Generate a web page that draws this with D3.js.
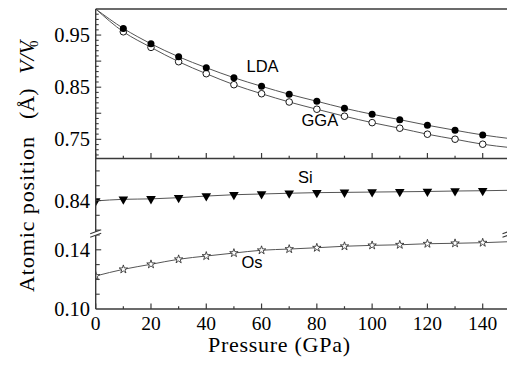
<!DOCTYPE html>
<html><head><meta charset="utf-8">
<script src="https://cdn.jsdelivr.net/npm/d3@7"></script>
<style>body{margin:0;background:#fff}svg{display:block}</style>
</head><body>
<svg id="c" width="507" height="366"></svg>
<script>
// ---- data ----
const pressure = [0,10,20,30,40,50,60,70,80,90,100,110,120,130,140];
const fitPressure = [0,10,20,30,40,50,60,70,80,90,100,110,120,130,140,150];
const ldaFit = [1.0,0.9628,0.9333,0.9084,0.8874,0.8682,0.8517,0.8364,0.8230,0.8096,0.7981,0.7877,0.7770,0.7674,0.7584,0.7513];
const ggaFit = [1.0,0.9563,0.9264,0.8989,0.8759,0.8548,0.8375,0.8216,0.8077,0.7943,0.7820,0.7713,0.7598,0.7502,0.7406,0.7341];
const siFit  = [0.8397,0.8408,0.8411,0.8419,0.8430,0.8439,0.8444,0.8449,0.8453,0.8455,0.8457,0.8459,0.8461,0.8464,0.8466,0.8469];
const osFit  = [0.1223,0.1268,0.1302,0.1336,0.1358,0.1378,0.1397,0.1405,0.1414,0.1424,0.1430,0.1434,0.1441,0.1444,0.1448,0.1455];
const xTicks = ["0","20","40","60","80","100","120","140"];
const xMinor = [10,30,50,70,90,110,130];
const vTickLabels = ["0.95","0.85","0.75"];
const siTickLabels = ["0.84"];
const osTickLabels = ["0.14","0.10"];

// ---- layout ----
const svg = d3.select("#c");
const X0 = 95.7, Ytop = 9, Ymid = 158.5, Ybot = 309, Ybreak = 233.5;
const x = d3.scaleLinear().domain([0,140]).range([X0, 482.7]);
const yV = d3.scaleLinear().domain([0.7132,1.0]).range([Ymid, Ytop]);
const ySi = d3.scaleLinear().domain([0.84,0.86]).range([200.5,170.9]);
const yOs = d3.scaleLinear().domain([0.10,0.14]).range([Ybot,249.8]);
const axisCol = "#3a3a3a", lineCol = "#555";
const serif = "'Liberation Serif', serif";

const defs = svg.append("defs");
defs.append("clipPath").attr("id","cU").append("rect").attr("x",X0).attr("y",Ytop).attr("width",507-X0).attr("height",Ymid-Ytop);
defs.append("clipPath").attr("id","cS").append("rect").attr("x",X0).attr("y",Ymid).attr("width",507-X0).attr("height",Ybreak-Ymid);
defs.append("clipPath").attr("id","cO").append("rect").attr("x",X0).attr("y",Ybreak).attr("width",507-X0).attr("height",Ybot-Ybreak);

// ---- curves ----
function curve(vals, ys, clip){
  const data = fitPressure.map((p,i)=>[p,vals[i]]);
  svg.append("path").attr("clip-path",`url(#${clip})`)
    .attr("d", d3.line().x(d=>x(d[0])).y(d=>ys(d[1])).curve(d3.curveMonotoneX)(data))
    .attr("fill","none").attr("stroke",lineCol).attr("stroke-width",1);
}
curve(ldaFit,yV,"cU"); curve(ggaFit,yV,"cU"); curve(siFit,ySi,"cS"); curve(osFit,yOs,"cO");

// ---- markers ----
const ptsIdx = pressure.map((p,i)=>i);
svg.append("g").selectAll("circle").data(ptsIdx.filter(i=>i>0)).join("circle")
  .attr("cx",i=>x(pressure[i])).attr("cy",i=>yV(ggaFit[i])).attr("r",3.3)
  .attr("fill","#fff").attr("stroke","#000").attr("stroke-width",0.9);
svg.append("g").selectAll("circle").data(ptsIdx.filter(i=>i>0)).join("circle")
  .attr("cx",i=>x(pressure[i])).attr("cy",i=>yV(ldaFit[i])).attr("r",3.5)
  .attr("fill","#000");
const tri = d3.symbol().type(d3.symbolTriangle).size(40);
svg.append("g").attr("clip-path","url(#cS)").selectAll("path").data(ptsIdx).join("path")
  .attr("d",tri).attr("transform",i=>`translate(${x(pressure[i])},${ySi(siFit[i])}) rotate(180)`)
  .attr("fill","#000");
const star = d3.symbol().type(d3.symbolStar).size(22);
svg.append("g").attr("clip-path","url(#cO)").selectAll("path").data(ptsIdx).join("path")
  .attr("d",star).attr("transform",i=>`translate(${x(pressure[i])},${yOs(osFit[i])})`)
  .attr("fill","#fff").attr("stroke","#222").attr("stroke-width",0.8);

// ---- frame ----
function hline(y){ svg.append("line").attr("x1",X0).attr("x2",507).attr("y1",y).attr("y2",y).attr("stroke",axisCol).attr("stroke-width",1.4); }
hline(Ytop); hline(Ymid); hline(Ybot);
svg.append("line").attr("x1",X0).attr("x2",X0).attr("y1",Ytop).attr("y2",Ybot).attr("stroke",axisCol).attr("stroke-width",1.4);

// x ticks (inward, on both panel bottoms)
[Ymid,Ybot].forEach(yb=>{
  svg.append("g").selectAll("line").data(xTicks).join("line")
    .attr("x1",d=>x(+d)).attr("x2",d=>x(+d)).attr("y1",yb).attr("y2",yb-5.5).attr("stroke",axisCol).attr("stroke-width",1.2);
  svg.append("g").selectAll("line").data(xMinor).join("line")
    .attr("x1",d=>x(d)).attr("x2",d=>x(d)).attr("y1",yb).attr("y2",yb-2.8).attr("stroke",axisCol).attr("stroke-width",1.2);
});
svg.append("g").attr("font-family",serif).attr("font-size",19.5).selectAll("text").data(xTicks).join("text")
  .attr("x",d=>x(+d)).attr("y",330).attr("text-anchor","middle").text(d=>d);

function yLabels(labels, ys){
  svg.append("g").attr("font-family",serif).attr("font-size",20.5).selectAll("text").data(labels).join("text")
    .attr("x",90).attr("y",d=>ys(+d)).attr("dy","0.35em").attr("text-anchor","end").text(d=>d);
}
// y ticks upper
const vMinor = d3.range(72,100).map(v=>v/100);
svg.append("g").selectAll("line").data(vMinor).join("line")
  .attr("x1",X0).attr("x2",d=>X0+ (Math.round(d*100)%5===0?5.5:3)).attr("y1",d=>yV(d)).attr("y2",d=>yV(d))
  .attr("stroke",axisCol).attr("stroke-width",1.1);
yLabels(vTickLabels, yV);
// y ticks Si
const siMinor = [0.82,0.83,0.84,0.85,0.86];
svg.append("g").selectAll("line").data(siMinor).join("line")
  .attr("x1",X0).attr("x2",d=>X0+(Math.abs(d-0.84)<1e-6?5.5:4)).attr("y1",d=>ySi(d)).attr("y2",d=>ySi(d))
  .attr("stroke",axisCol).attr("stroke-width",1.1);
yLabels(siTickLabels, ySi);
// y ticks Os
const osMinor = [0.11,0.12,0.13,0.14,0.15];
svg.append("g").selectAll("line").data(osMinor).join("line")
  .attr("x1",X0).attr("x2",d=>X0+(Math.abs(d-0.14)<1e-6?5.5:4)).attr("y1",d=>yOs(d)).attr("y2",d=>yOs(d))
  .attr("stroke",axisCol).attr("stroke-width",1.1);
yLabels(osTickLabels, yOs);

// break marks
function brk(cx){
  svg.append("rect").attr("x",cx-6).attr("y",Ybreak-1.6).attr("width",12).attr("height",3.2).attr("fill","#fff")
    .attr("transform",`rotate(-20,${cx},${Ybreak})`);
  [-1.8,1.8].forEach(o=>{
    svg.append("line").attr("x1",cx-5.5).attr("x2",cx+5.5).attr("y1",Ybreak+o+2).attr("y2",Ybreak+o-2)
      .attr("stroke",axisCol).attr("stroke-width",1.1);
  });
}
brk(X0); brk(508);

// series labels
const sans = "'Liberation Sans', Arial, sans-serif";
[["LDA",246.5,72],["GGA",301.5,126],["Si",298,183],["Os",241.5,268]].forEach(t=>{
  svg.append("text").attr("x",t[1]).attr("y",t[2]).attr("font-family",sans).attr("font-size",16.5).text(t[0]);
});

// axis titles
svg.append("g").attr("font-family",serif).attr("font-size",22).append("text")
  .attr("x",279).attr("y",352).attr("text-anchor","middle")
  .attr("textLength",142).attr("lengthAdjust","spacing").text("Pressure (GPa)");
const yl = svg.append("g").attr("font-family",serif).attr("font-size",22);
yl.append("text").attr("transform","translate(34,292) rotate(-90)").attr("textLength",155).attr("lengthAdjust","spacing").text("Atomic position");
yl.append("text").attr("transform","translate(34,119) rotate(-90)").text("(Å)");
yl.append("text").attr("transform","translate(34,74) rotate(-90)").attr("font-style","italic").text("V/V");
yl.append("text").attr("transform","translate(38,47) rotate(-90)").attr("font-size",13).text("0");
</script>
</body></html>
